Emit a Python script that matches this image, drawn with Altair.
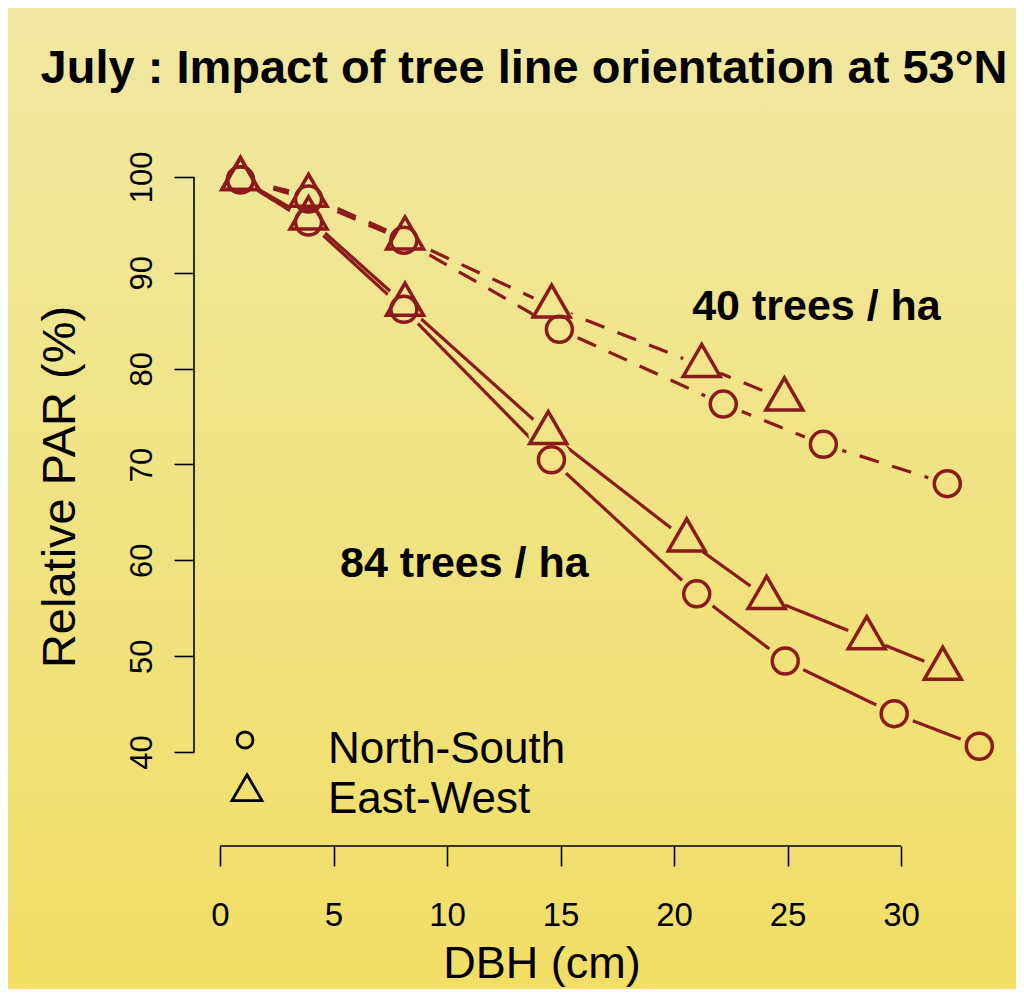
import altair as alt
import pandas as pd

# ---- data ----
dbh_84_ns = [0.9, 3.9, 8.1, 14.6, 21.0, 24.9, 29.7, 33.45]
par_84_ns = [99.7, 95.3, 86.2, 70.5, 56.5, 49.5, 44.0, 40.6]
dbh_84_ew = [0.9, 3.9, 8.15, 14.46, 20.56, 24.08, 28.49, 31.84]
par_84_ew = [99.8, 95.7, 86.7, 73.3, 62.1, 56.1, 51.9, 48.7]
dbh_40_ns = [0.9, 3.9, 8.1, 14.95, 22.17, 26.58, 32.04]
par_40_ns = [99.7, 97.7, 93.4, 84.1, 76.3, 72.1, 68.0]
dbh_40_ew = [0.9, 3.9, 8.15, 14.61, 21.22, 24.86]
par_40_ew = [99.8, 98.05, 93.6, 86.5, 80.3, 76.8]

x_ticks = [0, 5, 10, 15, 20, 25, 30]
y_ticks = [40, 50, 60, 70, 80, 90, 100]
legend_labels = ["North-South", "East-West"]
annot_text = ["40 trees / ha", "84 trees / ha"]
annot_dbh = [20.8, 5.29]
annot_par = [85.1, 58.26]
title_text = "July : Impact of tree line orientation at 53°N"

RED = "#8B1A1A"
TOP = "#F0E8A2"
BOT = "#F2DE66"
FONT = "Liberation Sans"
TRI = "M0,-1L0.866,0.5L-0.866,0.5Z"

def mk(dbh, par, dens, ori):
    return pd.DataFrame({"dbh": dbh, "par": par, "density": dens, "orient": ori,
                         "series": f"{dens}-{ori}"})

df = pd.concat([
    mk(dbh_84_ns, par_84_ns, "84", "NS"),
    mk(dbh_84_ew, par_84_ew, "84", "EW"),
    mk(dbh_40_ns, par_40_ns, "40", "NS"),
    mk(dbh_40_ew, par_40_ew, "40", "EW"),
], ignore_index=True)

W, H = 806, 696
xs = alt.Scale(domain=[-1.1454, 34.361], nice=False, zero=False)
ys = alt.Scale(domain=[30.19, 102.817], nice=False, zero=False)

xaxis = alt.Axis(values=x_ticks, domain=False, grid=False, tickSize=20, tickWidth=1.6,
                 tickColor="black", labelFontSize=33, labelFont=FONT, labelColor="black",
                 labelBaseline="alphabetic", labelPadding=59, title=None,
                 labelFlush=False, labelOverlap=False, zindex=2)
yaxis = alt.Axis(values=y_ticks, domain=False, grid=False, tickSize=20, tickWidth=1.6,
                 tickColor="black", labelFontSize=31, labelFont=FONT, labelColor="black",
                 labelAngle=270, labelAlign="center", labelBaseline="alphabetic",
                 labelPadding=23, title=None, labelFlush=False, labelOverlap=False,
                 zindex=2)

one = pd.DataFrame({"k": [0]})

bg = alt.Chart(one).mark_rect(
    color=alt.LinearGradient(gradient="linear",
                             stops=[alt.GradientStop(color=TOP, offset=0),
                                    alt.GradientStop(color=BOT, offset=1)],
                             x1=0, x2=0, y1=0, y2=1)
).encode(x=alt.value(-186), x2=alt.value(822), y=alt.value(-142), y2=alt.value(839))

lines = alt.Chart(df).mark_line(strokeWidth=3.2, color=RED).encode(
    x=alt.X("dbh:Q", scale=xs, axis=xaxis),
    y=alt.Y("par:Q", scale=ys, axis=yaxis),
    detail="series:N",
    order="dbh:Q",
    strokeDash=alt.StrokeDash("density:N",
                              scale=alt.Scale(domain=["84", "40"], range=[[1, 0], [20, 14]]),
                              legend=None),
)

halo = alt.Chart(df).mark_point(filled=True, shape="circle", size=1600, opacity=1,
                                strokeWidth=0).encode(
    x=alt.X("dbh:Q", scale=xs),
    y=alt.Y("par:Q", scale=ys),
    color=alt.Color("par:Q", scale=alt.Scale(domain=[15.27, 117.64], range=[BOT, TOP],
                                             interpolate="rgb"), legend=None),
)

circles = alt.Chart(df[df.orient == "NS"]).mark_point(
    filled=False, shape="circle", size=676, strokeWidth=3.5, color=RED, opacity=1
).encode(x=alt.X("dbh:Q", scale=xs), y=alt.Y("par:Q", scale=ys))

tris = alt.Chart(df[df.orient == "EW"]).mark_point(
    filled=False, shape=TRI, size=1825, strokeWidth=3.5, color=RED, opacity=1,
    strokeJoin="miter"
).encode(x=alt.X("dbh:Q", scale=xs), y=alt.Y("par:Q", scale=ys))

xline = alt.Chart(pd.DataFrame({"dbh": [x_ticks[0]], "dbh2": [x_ticks[-1]]})).mark_rule(
    color="black", strokeWidth=1.6).encode(
    x=alt.X("dbh:Q", scale=xs), x2="dbh2:Q", y=alt.value(H))
yline = alt.Chart(pd.DataFrame({"par": [y_ticks[0]], "par2": [y_ticks[-1]]})).mark_rule(
    color="black", strokeWidth=1.6).encode(
    y=alt.Y("par:Q", scale=ys), y2="par2:Q", x=alt.value(0))

ann = alt.Chart(pd.DataFrame({"dbh": annot_dbh, "par": annot_par, "t": annot_text})).mark_text(
    font=FONT, fontSize=43, fontWeight="bold", color="black", align="left",
    baseline="alphabetic").encode(
    x=alt.X("dbh:Q", scale=xs), y=alt.Y("par:Q", scale=ys), text="t:N")

leg_c = alt.Chart(one).mark_point(filled=False, shape="circle", size=256, strokeWidth=2.8,
                                  color="black", opacity=1).encode(
    x=alt.value(51), y=alt.value(590))
leg_t = alt.Chart(one).mark_point(filled=False, shape=TRI, size=1200, strokeWidth=2.8,
                                  color="black", opacity=1, strokeJoin="miter").encode(
    x=alt.value(53), y=alt.value(642))
leg_txt1 = alt.Chart(one).mark_text(font=FONT, fontSize=44, color="black", align="left",
                                    baseline="alphabetic", text=legend_labels[0]).encode(
    x=alt.value(134), y=alt.value(613))
leg_txt2 = alt.Chart(one).mark_text(font=FONT, fontSize=44, color="black", align="left",
                                    baseline="alphabetic", text=legend_labels[1]).encode(
    x=alt.value(134), y=alt.value(663))

title = alt.Chart(one).mark_text(font=FONT, fontSize=47, fontWeight="bold", color="black",
                                 align="center", baseline="alphabetic", text=title_text).encode(
    x=alt.value(330), y=alt.value(-67))
ytitle = alt.Chart(one).mark_text(font=FONT, fontSize=47, color="black", align="center",
                                  baseline="alphabetic", angle=270, text="Relative PAR (%)").encode(
    x=alt.value(-119), y=alt.value(337))
xtitle = alt.Chart(one).mark_text(font=FONT, fontSize=45, color="black", align="center",
                                  baseline="alphabetic", text="DBH (cm)").encode(
    x=alt.value(348), y=alt.value(828))

chart = alt.layer(
    bg, lines, halo, circles, tris, xline, yline, ann,
    leg_c, leg_t, leg_txt1, leg_txt2, title, ytitle, xtitle
).properties(
    width=W, height=H,
    autosize=alt.AutoSizeParams(type="none"),
    padding={"left": 186, "top": 142, "right": 16, "bottom": 143},
    background=BOT,
).configure_view(stroke=None)

chart.save("out.html", embed_options={"renderer": "svg", "actions": False})
